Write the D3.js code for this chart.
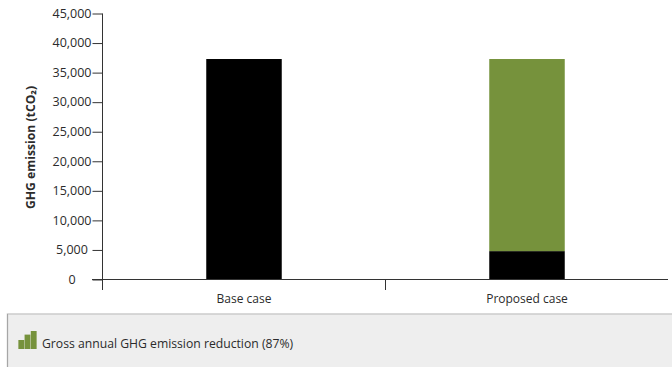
<!DOCTYPE html>
<html>
<head>
<meta charset="utf-8">
<script src="https://cdn.jsdelivr.net/npm/d3@7/dist/d3.min.js"></script>
<style>
body { margin: 0; background: #fff; }
text { font-family: "Open Sans", "Noto Sans", sans-serif; fill: #2b2b2b; }
</style>
</head>
<body>
<script>
var width = 672;
var height = 367;

var categories = ["Base case", "Proposed case"];
var remaining = [37300, 4800];
var reduction = [0, 32500];
var yTicks = [0, 5000, 10000, 15000, 20000, 25000, 30000, 35000, 40000, 45000];
var yLabel = "GHG emission (tCO₂)";
var footerText = "Gross annual GHG emission reduction (87%)";
var iconLevels = [1.5, 2.4, 3];

var svg = d3.select("body")
            .append("svg")
            .attr("width", width)
            .attr("height", height)
            .style("display", "block");

var x = d3.scaleBand()
          .domain(categories)
          .range([102.5, 668.5]);

var y = d3.scaleLinear()
          .domain([0, 45000])
          .range([279.5, 13.5]);

var barWidth = 75.5;
function barX(d) { return x(d) + x.bandwidth() / 2 - barWidth / 2; }

// bars
svg.selectAll("rect.remaining")
   .data(categories)
   .enter()
   .append("rect")
   .attr("class", "remaining")
   .attr("x", barX)
   .attr("width", barWidth)
   .attr("y", function(d, i) { return y(remaining[i]); })
   .attr("height", function(d, i) { return y(0) - y(remaining[i]); })
   .style("fill", "#000");

svg.selectAll("rect.reduction")
   .data(categories)
   .enter()
   .append("rect")
   .attr("class", "reduction")
   .attr("x", barX)
   .attr("width", barWidth)
   .attr("y", function(d, i) { return y(remaining[i] + reduction[i]); })
   .attr("height", function(d, i) { return y(0) - y(reduction[i]); })
   .style("fill", "#76923c");

// y axis, labels are centred in their column in the original
var yAxis = d3.axisLeft(y)
              .tickValues(yTicks)
              .tickFormat(d3.format(","))
              .tickSize(10)
              .tickPadding(1);

var yG = svg.append("g")
            .attr("transform", "translate(102.5,0)")
            .call(yAxis);
yG.select(".domain").remove();
yG.selectAll("line").style("stroke", "#333");
yG.selectAll("text")
  .attr("x", -30.5)
  .attr("dy", "0.3em")
  .attr("text-anchor", "middle")
  .style("font-size", "12.5px");

svg.append("line")
   .attr("x1", 102.5).attr("x2", 102.5)
   .attr("y1", y(45000)).attr("y2", 290)
   .style("stroke", "#333");

// x axis
var xAxis = d3.axisBottom(x)
              .tickSize(0)
              .tickPadding(15);

var xG = svg.append("g")
            .attr("transform", "translate(0," + y(0) + ")")
            .call(xAxis);
xG.select(".domain").remove();
xG.selectAll("text").style("font-size", "12px");

svg.append("line")
   .attr("x1", 92).attr("x2", 668)
   .attr("y1", y(0)).attr("y2", y(0))
   .style("stroke", "#333");

svg.selectAll("line.divider")
   .data(categories.slice(1))
   .enter()
   .append("line")
   .attr("class", "divider")
   .attr("x1", function(d) { return x(d); })
   .attr("x2", function(d) { return x(d); })
   .attr("y1", y(0))
   .attr("y2", 290)
   .style("stroke", "#333");

svg.append("text")
   .attr("transform", "translate(35,147.5) rotate(-90)")
   .attr("text-anchor", "middle")
   .style("font-size", "12.2px")
   .style("font-weight", "bold")
   .text(yLabel);

// footer panel
svg.append("rect")
   .attr("x", 7.5).attr("y", 314)
   .attr("width", width).attr("height", 60)
   .style("fill", "#eeeeee")
   .style("stroke", "#cccccc")
   .style("stroke-width", 1.5);

svg.append("line")
   .attr("x1", 7.5).attr("x2", 7.5)
   .attr("y1", 314).attr("y2", height)
   .style("stroke", "#a6a6a6");

var iconX = d3.scaleBand().domain(iconLevels).range([18, 37]).padding(0.06);
var iconY = d3.scaleLinear().domain([0, 3]).range([349, 331]);

svg.selectAll("rect.icon")
   .data(iconLevels)
   .enter()
   .append("rect")
   .attr("class", "icon")
   .attr("x", function(d) { return iconX(d); })
   .attr("width", iconX.bandwidth())
   .attr("y", function(d) { return iconY(d); })
   .attr("height", function(d) { return iconY(0) - iconY(d); })
   .style("fill", "#76923c");

svg.append("text")
   .attr("x", 42).attr("y", 348)
   .style("font-size", "12.2px")
   .text(footerText);
</script>
</body>
</html>
